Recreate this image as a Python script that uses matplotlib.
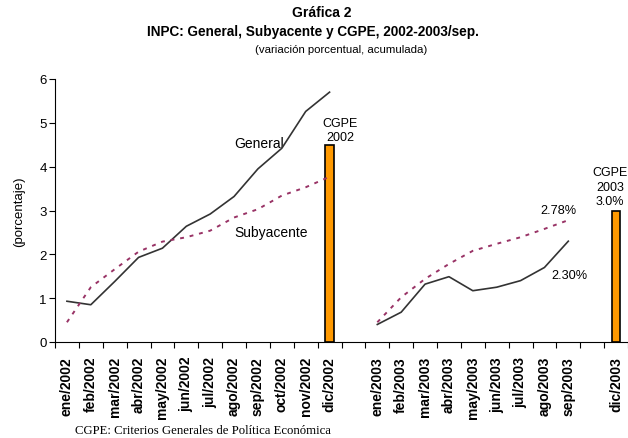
import matplotlib
matplotlib.use("Agg")
import matplotlib.pyplot as plt
import numpy as np

plt.rcParams['font.family'] = ['Liberation Sans', 'DejaVu Sans']

categories = ["ene/2002", "feb/2002", "mar/2002", "abr/2002", "may/2002", "jun/2002",
              "jul/2002", "ago/2002", "sep/2002", "oct/2002", "nov/2002", "dic/2002",
              "",
              "ene/2003", "feb/2003", "mar/2003", "abr/2003", "may/2003", "jun/2003",
              "jul/2003", "ago/2003", "sep/2003",
              "",
              "dic/2003"]

general_2002 = [0.93, 0.85, 1.38, 1.93, 2.14, 2.64, 2.92, 3.32, 3.95, 4.42, 5.26, 5.70]
subyacente_2002 = [0.45, 1.25, 1.66, 2.06, 2.29, 2.39, 2.54, 2.84, 3.03, 3.34, 3.53, 3.77]
general_2003 = [0.40, 0.68, 1.32, 1.49, 1.17, 1.25, 1.40, 1.70, 2.30]
subyacente_2003 = [0.45, 1.02, 1.44, 1.78, 2.08, 2.24, 2.39, 2.58, 2.78]
cgpe_cats = ["dic/2002", "dic/2003"]
cgpe_values = [4.5, 3.0]

fig = plt.figure(figsize=(6.28, 4.39), dpi=100)
ax = fig.add_axes([55/628, 1-343/439, 1-55/628, (343-80)/439])

x = np.arange(len(categories))
i02 = [categories.index(c) for c in categories[:12]]
i03 = [categories.index(c) for c in categories[13:22]]
ib = [categories.index(c) for c in cgpe_cats]

ax.bar(ib, cgpe_values, width=0.37, color='#FF9900', edgecolor='black', linewidth=1.2, zorder=3)

gcol = '#333333'
scol = '#993366'
ax.plot(i02, general_2002, color=gcol, lw=1.2, zorder=4)
ax.plot(i03, general_2003, color=gcol, lw=1.2, zorder=4)
ax.plot(i02, subyacente_2002, color=scol, lw=1.4, ls=(0, (2, 3)), zorder=4)
ax.plot(i03, subyacente_2003, color=scol, lw=1.4, ls=(0, (2, 3)), zorder=4)

ax.set_xlim(-0.5, len(categories) - 0.5)
ax.set_ylim(0, 6)
ax.set_yticks(range(0, 7))
ax.tick_params(axis='y', labelsize=9.5, length=4, width=0.8, direction='out', pad=2)
ax.set_xticks(x)
ax.set_xticklabels(categories, rotation=90, fontsize=10, fontweight='bold')
ax.tick_params(axis='x', which='major', length=0, pad=10)
ax.set_xticks(np.arange(-0.5, len(categories)), minor=True)
ax.tick_params(axis='x', which='minor', length=4, width=0.8, direction='out')
for s in ['top', 'right']:
    ax.spines[s].set_visible(False)
for s in ['left', 'bottom']:
    ax.spines[s].set_linewidth(0.8)

ax.set_ylabel("(porcentaje)", fontsize=9.5, labelpad=10)

ax.text(8.03, 4.54, "General", fontsize=10, ha='center', va='center')
ax.text(8.56, 2.51, "Subyacente", fontsize=10, ha='center', va='center')
ax.text(11.45, 4.53, "CGPE\n2002", fontsize=9, ha='center', va='bottom', linespacing=1.3)
ax.text(22.75, 3.07, "CGPE\n2003\n3.0%", fontsize=9, ha='center', va='bottom', linespacing=1.3)
ax.text(20.6, 3.01, "2.78%", fontsize=9.2, ha='center', va='center')
ax.text(21.05, 1.53, "2.30%", fontsize=9.2, ha='center', va='center')

fig.text(322/628, 1-13/439, "Gráfica 2", fontsize=10, fontweight='bold', ha='center', va='center')
fig.text(313/628, 1-32/439, "INPC: General, Subyacente y CGPE, 2002-2003/sep.", fontsize=9.8,
         fontweight='bold', ha='center', va='center')
fig.text(341/628, 1-50/439, "(variación porcentual, acumulada)", fontsize=8.2, ha='center', va='center')
fig.text(75/628, 1.5/439, "CGPE: Criterios Generales de Política Económica", fontsize=9.2,
         family='Liberation Serif', ha='left', va='bottom')

fig.savefig("out.png", dpi=100)
